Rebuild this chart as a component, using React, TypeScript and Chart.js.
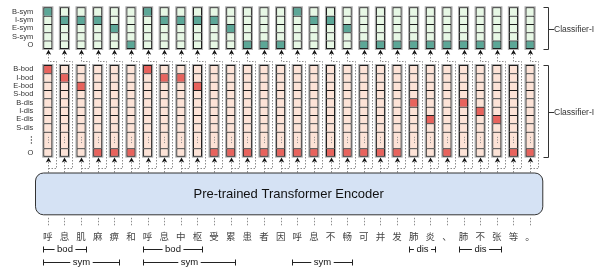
import React, { useEffect, useRef } from 'react';
import { Chart, registerables } from 'chart.js';

Chart.register(...registerables);

// ---- data ----
const tokens = ['呼', '息', '肌', '麻', '痹', '和', '呼', '息', '中', '枢', '受', '累', '患', '者', '因', '呼', '息', '不', '畅', '可', '并', '发', '肺', '炎', '、', '肺', '不', '张', '等', '。'];

const symRows = ['B-sym', 'I-sym', 'E-sym', 'S-sym', 'O'];
const symTags = ['B-sym', 'I-sym', 'I-sym', 'I-sym', 'E-sym', 'O', 'B-sym', 'I-sym', 'I-sym', 'I-sym', 'I-sym', 'E-sym', 'O', 'O', 'O', 'B-sym', 'I-sym', 'I-sym', 'E-sym', 'O', 'O', 'O', 'O', 'O', 'O', 'O', 'O', 'O', 'O', 'O'];

const bdRows = ['B-bod', 'I-bod', 'E-bod', 'S-bod', 'B-dis', 'I-dis', 'E-dis', 'S-dis', '⋮', 'O'];
const bdRowUnits = [1, 1, 1, 1, 1, 1, 1, 1, 2, 1];
const bdTags = ['B-bod', 'I-bod', 'E-bod', 'O', 'O', 'O', 'B-bod', 'I-bod', 'I-bod', 'E-bod', 'O', 'O', 'O', 'O', 'O', 'O', 'O', 'O', 'O', 'O', 'O', 'O', 'B-dis', 'E-dis', 'O', 'B-dis', 'I-dis', 'E-dis', 'O', 'O'];

const spanLabels = ['bod', 'sym', 'bod', 'sym', 'sym', 'dis', 'dis'];
const spanStarts = [0, 0, 6, 6, 15, 22, 25];
const spanEnds = [2, 4, 9, 11, 18, 23, 27];
const spanLevels = [0, 1, 0, 1, 1, 0, 0];

const encoderTitle = 'Pre-trained Transformer Encoder';
const classifierLabels = ['Classifier-I', 'Classifier-I'];

// ---- layout / style ----
const W = 595;
const H = 271;
const ROW_H = 8.33;
const SYM_TOP = 7.3;
const BD_TOP = 65;
const SYM_BG = '#e7f8e5';
const SYM_HI = '#5ca797';
const BD_BG = '#fde3d7';
const BD_HI = '#e8635d';
const CELL_BORDER = '#1c1c1c';
const DOT = '#8c8c8c';
const FONT = '"Liberation Sans", Arial, sans-serif';

const symBounds = symRows.map((_, i) => [SYM_TOP + i * ROW_H, SYM_TOP + (i + 1) * ROW_H]);
const bdBounds: number[][] = [];
{
  let acc = BD_TOP;
  bdRowUnits.forEach((u) => {
    bdBounds.push([acc, acc + u * ROW_H]);
    acc += u * ROW_H;
  });
}
const SYM_BOTTOM = symBounds[symBounds.length - 1][1];
const BD_BOTTOM = bdBounds[bdBounds.length - 1][1];
const ENC_TOP = 172.5;
const ENC_BOTTOM = 214.3;

function makeDatasets() {
  const ds: any[] = [];
  symRows.forEach((r, i) => {
    ds.push({
      label: r,
      data: tokens.map(() => symBounds[i]),
      backgroundColor: symTags.map((t) => (t === r ? SYM_HI : SYM_BG)),
      borderColor: CELL_BORDER,
      borderWidth: { top: 1, left: 1, right: 1, bottom: i === symRows.length - 1 ? 1 : 0 },
      borderSkipped: false,
      barThickness: 9,
      grouped: false,
      inflateAmount: 0,
    });
  });
  bdRows.forEach((r, i) => {
    ds.push({
      label: r,
      data: tokens.map(() => bdBounds[i]),
      backgroundColor: bdTags.map((t) => (t === r ? BD_HI : BD_BG)),
      borderColor: CELL_BORDER,
      borderWidth: { top: 1, left: 1, right: 1, bottom: i === bdRows.length - 1 ? 1 : 0 },
      borderSkipped: false,
      barThickness: 9,
      grouped: false,
      inflateAmount: 0,
    });
  });
  return ds;
}

function dotted(ctx: CanvasRenderingContext2D, pts: number[][]) {
  ctx.save();
  ctx.strokeStyle = DOT;
  ctx.lineWidth = 1;
  ctx.setLineDash([1.5, 1.5]);
  ctx.beginPath();
  pts.forEach((p, k) => (k === 0 ? ctx.moveTo(p[0], p[1]) : ctx.lineTo(p[0], p[1])));
  ctx.stroke();
  ctx.restore();
}

function arrowHead(ctx: CanvasRenderingContext2D, x: number, tip: number) {
  ctx.save();
  ctx.fillStyle = '#111';
  ctx.beginPath();
  ctx.moveTo(x, tip);
  ctx.lineTo(x + 2.7, tip + 5);
  ctx.lineTo(x, tip + 3.8);
  ctx.lineTo(x - 2.7, tip + 5);
  ctx.closePath();
  ctx.fill();
  ctx.restore();
}

const diagramPlugin = {
  id: 'diagram',
  beforeDatasetsDraw(chart: any) {
    const { ctx, scales } = chart;
    const xs = scales.x;
    const ys = scales.y;
    ctx.save();
    ctx.fillStyle = 'rgba(0,0,0,0.33)';
    tokens.forEach((_, i) => {
      const cx = xs.getPixelForValue(i);
      const t1 = ys.getPixelForValue(SYM_TOP);
      const b1 = ys.getPixelForValue(SYM_BOTTOM);
      ctx.fillRect(cx - 5.6, t1 - 1, 11.2, b1 - t1 + 2);
      const t2 = ys.getPixelForValue(BD_TOP);
      const b2 = ys.getPixelForValue(BD_BOTTOM);
      ctx.fillRect(cx - 5.6, t2 - 1, 11.2, b2 - t2 + 2);
    });
    ctx.restore();
  },
  afterDatasetsDraw(chart: any) {
    const { ctx, scales } = chart;
    const xs = scales.x;
    const ys = scales.y;
    const py = (v: number) => ys.getPixelForValue(v);
    const n = tokens.length;

    // connectors and arrows
    tokens.forEach((_, i) => {
      const cx = Math.round(xs.getPixelForValue(i)) + 0.5;
      const rx = cx + 8;
      const yTurnTop = py(61.5);
      const yTurnBot = py(168.5);
      dotted(ctx, [[cx, py(ENC_TOP)], [cx, py(BD_BOTTOM + 5)]]);
      dotted(ctx, [[cx, yTurnBot], [rx, yTurnBot], [rx, yTurnTop], [cx, yTurnTop], [cx, py(SYM_BOTTOM + 5)]]);
      arrowHead(ctx, cx, py(SYM_BOTTOM + 0.8));
      arrowHead(ctx, cx, py(BD_BOTTOM + 0.8));
      // ticks under encoder
      dotted(ctx, [[cx, py(ENC_BOTTOM + 3.5)], [cx, py(ENC_BOTTOM + 12)]]);
      // ellipsis inside the tall row
      const dr = bdBounds[8];
      const my = py((dr[0] + dr[1]) / 2);
      ctx.fillStyle = '#8a8a8a';
      [-2.6, 0, 2.6].forEach((d) => ctx.fillRect(cx - 0.5, my + d - 0.5, 1, 1));
    });

    // encoder box
    const eL = xs.getPixelForValue(0) - 12.8;
    const eR = xs.getPixelForValue(n - 1) + 12.2;
    const eT = py(ENC_TOP);
    const eB = py(ENC_BOTTOM);
    ctx.save();
    ctx.beginPath();
    (ctx as any).roundRect(eL + 0.5, eT + 0.5, eR - eL, eB - eT, 8);
    ctx.fillStyle = '#d5e2f4';
    ctx.fill();
    ctx.strokeStyle = '#333';
    ctx.lineWidth = 1;
    ctx.stroke();
    ctx.fillStyle = '#111';
    ctx.font = `13px ${FONT}`;
    ctx.textAlign = 'center';
    ctx.textBaseline = 'middle';
    ctx.fillText(encoderTitle, (eL + eR) / 2, (eT + eB) / 2 + 1);
    ctx.restore();

    // row labels
    ctx.save();
    ctx.fillStyle = '#333';
    ctx.font = `7.5px ${FONT}`;
    ctx.textAlign = 'right';
    ctx.textBaseline = 'middle';
    const labX = xs.getPixelForValue(0) - 14.5;
    symRows.forEach((r, i) => ctx.fillText(r, labX, py((symBounds[i][0] + symBounds[i][1]) / 2)));
    bdRows.forEach((r, i) => {
      if (r === '⋮') {
        const my = py((bdBounds[i][0] + bdBounds[i][1]) / 2);
        [-3, 0, 3].forEach((d) => ctx.fillRect(labX - 2.5, my + d - 0.6, 1.2, 1.2));
      } else {
        ctx.fillText(r, labX, py((bdBounds[i][0] + bdBounds[i][1]) / 2));
      }
    });
    ctx.restore();

    // tokens
    ctx.save();
    ctx.fillStyle = '#444';
    ctx.font = '9.5px "Noto Sans CJK SC"';
    ctx.textAlign = 'center';
    ctx.textBaseline = 'middle';
    tokens.forEach((t, i) => ctx.fillText(t, xs.getPixelForValue(i), py(236)));
    ctx.restore();

    // span brackets
    ctx.save();
    ctx.strokeStyle = '#222';
    ctx.fillStyle = '#111';
    ctx.lineWidth = 1;
    ctx.font = `9.5px ${FONT}`;
    ctx.textAlign = 'center';
    ctx.textBaseline = 'middle';
    spanLabels.forEach((lab, k) => {
      const x0 = Math.round(xs.getPixelForValue(spanStarts[k]) - 4.8) + 0.5;
      const x1 = Math.round(xs.getPixelForValue(spanEnds[k]) + 4.5) + 0.5;
      const yb = Math.round(py(spanLevels[k] === 0 ? 249 : 261.5)) + 0.5;
      const tw = ctx.measureText(lab).width;
      const mid = (x0 + x1) / 2;
      ctx.beginPath();
      ctx.moveTo(x0, yb - 3);
      ctx.lineTo(x0, yb + 3);
      ctx.moveTo(x1, yb - 3);
      ctx.lineTo(x1, yb + 3);
      ctx.moveTo(x0, yb);
      ctx.lineTo(mid - tw / 2 - 2.5, yb);
      ctx.moveTo(mid + tw / 2 + 2.5, yb);
      ctx.lineTo(x1, yb);
      ctx.stroke();
      ctx.fillText(lab, mid, yb);
    });
    ctx.restore();

    // classifier brackets
    ctx.save();
    ctx.strokeStyle = '#333';
    ctx.lineWidth = 1;
    ctx.fillStyle = '#333';
    ctx.font = `8.5px ${FONT}`;
    ctx.textAlign = 'left';
    ctx.textBaseline = 'middle';
    const bx = Math.round(xs.getPixelForValue(n - 1) + 18) + 0.5;
    const groups = [[SYM_TOP - 0.6, SYM_BOTTOM + 0.3], [BD_TOP, BD_BOTTOM]];
    groups.forEach((g, k) => {
      const t = Math.round(py(g[0])) + 0.5;
      const b = Math.round(py(g[1])) + 0.5;
      const m = Math.round((t + b) / 2) + 0.5;
      ctx.beginPath();
      ctx.moveTo(bx - 5, t);
      ctx.lineTo(bx, t);
      ctx.lineTo(bx, b);
      ctx.lineTo(bx - 5, b);
      ctx.moveTo(bx, m);
      ctx.lineTo(bx + 5.5, m);
      ctx.stroke();
      ctx.fillText(classifierLabels[k], bx + 5.5, m);
    });
    ctx.restore();
  },
};

export default function App() {
  const ref = useRef<HTMLCanvasElement | null>(null);
  useEffect(() => {
    if (!ref.current) return;
    const chart = new Chart(ref.current, {
      type: 'bar',
      data: { labels: tokens, datasets: makeDatasets() },
      options: {
        responsive: false,
        animation: false,
        devicePixelRatio: 1,
        events: [],
        layout: { padding: { left: 39.5, right: 56.6, top: 0, bottom: 0 } },
        plugins: { legend: { display: false }, tooltip: { enabled: false } },
        scales: {
          x: { type: 'category', display: false, offset: true },
          y: { type: 'linear', display: false, min: 0, max: H, reverse: true },
        },
      } as any,
      plugins: [diagramPlugin],
    });
    return () => chart.destroy();
  }, []);
  return (
    <div style={{ position: 'absolute', left: 0, top: 0, width: W, height: H, background: '#fff' }}>
      <canvas ref={ref} width={W} height={H} style={{ display: 'block', width: W, height: H }} />
    </div>
  );
}
